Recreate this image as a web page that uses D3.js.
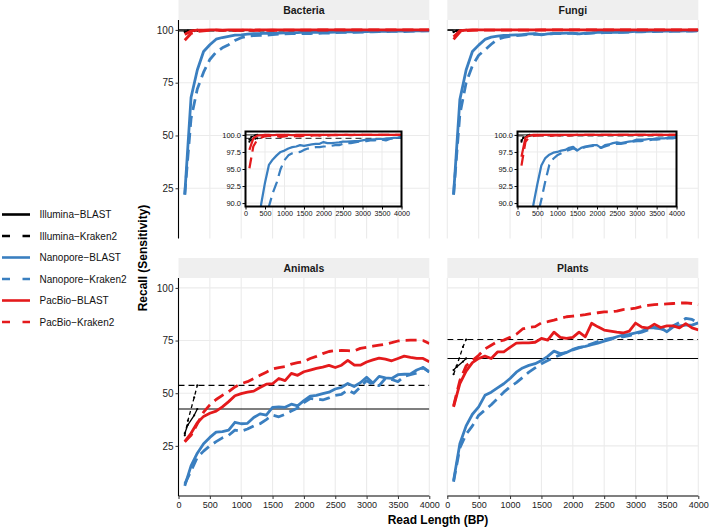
<!DOCTYPE html>
<html><head><meta charset="utf-8">
<script src="https://cdn.jsdelivr.net/npm/d3@7"></script>
<style>
body{margin:0;background:#fff}
text{font-family:Arial,"Liberation Sans",Helvetica,sans-serif}
</style>
</head><body>
<svg id="chart" width="709" height="531"></svg>
<script>
// ---------------- DATA ----------------
const readLength = [100,200,300,400,500,600,700,800,900,1000,1100,1200,1300,1400,1500,1600,1700,1800,1900,2000,
  2100,2200,2300,2400,2500,2600,2700,2800,2900,3000,3100,3200,3300,3400,3500,3600,3700,3800,3900,4000];
const illuminaLength = [100,150,250,300];
const facetNames = ["Bacteria","Fungi","Animals","Plants"];
const seriesNames = ["Illumina\u2212BLAST","Illumina\u2212Kraken2","Nanopore\u2212BLAST","Nanopore\u2212Kraken2","PacBio\u2212BLAST","PacBio\u2212Kraken2"];
const xTicks = [0,500,1000,1500,2000,2500,3000,3500,4000];
const yTicks = [25,50,75,100];
const insetYTicks = [90,92.5,95,97.5,100];

// Bacteria
const bacteriaIlluminaBlast   = [99.3,99.7,99.95,100];
const bacteriaIlluminaKraken2 = [99.0,99.3,99.45,99.5];
const bacteriaNanoporeBlast = [22,68,81,89.8,93,95.6,96.4,97.0,97.5,97.7,98.0,98.2,98.3,98.5,98.4,98.5,98.6,98.7,98.7,98.95,
  98.8,98.8,98.85,98.9,99.0,99.0,99.05,99.1,99.1,99.2,99.3,99.3,99.35,99.4,99.4,99.45,99.5,99.55,99.6,99.7];
const bacteriaNanoporeKraken2 = [22,58,72,80,86,89.5,91.5,93,95,96.3,97.0,97.3,97.4,97.5,97.8,98.0,98.1,98.2,98.2,98.3,
  98.3,98.4,98.5,98.5,98.7,98.8,98.8,98.9,99.0,99.0,99.1,99.2,99.2,99.3,99.3,99.2,99.4,99.5,99.6,99.6];
const bacteriaPacbioBlast = [97.8,99.5,99.9,99.95,100,100,99.95,100,100,100,100,99.95,100,100,100,100,100,100,100,100,
  100,100,100,100,100,100,100,100,100,100,100,100,100,100,100,100,100,100,100,100];
const bacteriaPacbioKraken2 = [95.1,98.3,99.3,99.6,99.8,99.9,99.75,99.85,99.7,99.8,99.9,99.75,99.85,99.8,99.9,99.75,99.9,99.95,99.9,99.95,
  99.9,99.95,100,99.95,100,100,99.95,100,100,100,100,100,100,100,100,100,100,100,100,100];

// Fungi
const fungiIlluminaBlast   = [99.0,99.6,99.9,100];
const fungiIlluminaKraken2 = [99.2,99.6,99.8,99.85];
const fungiNanoporeBlast = [22,67,81,89.8,92.8,95.5,96.6,97.1,97.4,97.5,97.7,97.8,98.1,98.25,97.7,98.1,98.3,98.4,98.5,98.5,
  98.1,98.5,98.6,98.8,98.9,98.8,98.9,99.0,99.1,99.3,99.3,99.3,99.4,99.4,99.5,99.5,99.5,99.6,99.6,99.7];
const fungiNanoporeKraken2 = [22,60,75,83,88,90.5,93.2,95.6,96.5,97.0,97.3,97.6,97.8,98.0,97.8,98.0,98.2,98.3,98.4,98.4,
  98.1,98.3,98.5,98.6,98.7,98.7,98.8,98.9,99.0,99.1,99.1,99.2,99.2,99.3,99.3,99.4,99.4,99.5,99.5,99.6];
const fungiPacbioBlast = [96.8,99.6,99.9,100,100,100,100,100,100,100,100,100,100,100,100,100,100,100,100,100,
  100,100,100,100,100,100,100,100,100,100,100,100,100,100,100,100,100,100,100,100];
const fungiPacbioKraken2 = [95.5,99.0,99.7,99.85,99.9,99.95,99.9,99.85,99.9,99.95,99.9,99.95,99.9,99.95,100,99.95,100,100,100,100,
  100,100,100,100,100,100,100,100,100,100,100,100,100,100,100,100,100,100,100,100];

// Animals
const animalsIlluminaBlast   = [31,35,39.5,42.5];
const animalsIlluminaKraken2 = [30,37,48,53.7];
const animalsNanoporeBlast = [6,15.5,21.5,26,29,31.5,31.8,32.5,36.2,35.5,35.7,38.5,40.2,39.6,43.3,43.5,43.3,44.8,44,46.5,
  48.6,49,49.8,50.5,52,52.8,54.6,53.2,55,57.6,54.8,58,57.3,57,58.8,59,59.2,61,62.2,60.2];
const animalsNanoporeKraken2 = [7,13,19.5,22.5,25,27,28.8,30,32.5,32,33,34.5,35.5,37.5,39.6,38.8,40,41.5,43,45.5,
  47.5,47.2,46.8,47.8,49,49.5,51.5,50,53,56,54,53.6,57,56.5,55.5,58,58.8,59.5,62.2,60];
const animalsPacbioBlast = [27,31,36,39,40.5,41.5,43.5,46,48.8,49.8,50.5,51,52.7,54.3,54.5,57,56,59.4,58.5,60.2,
  61,61.8,62.4,63.2,62.2,63.3,65.6,63.4,63.3,64.8,65.8,66.7,66.2,65.4,66.5,67.6,67,66.5,66.5,64.9];
const animalsPacbioKraken2 = [27,30,35.5,41,44.5,47,49,50.7,53,54.5,55.5,57,58.5,60,61.5,62.2,62.6,63.8,64.5,65,
  66.5,67.5,68.8,69.8,70.2,70.3,70.2,70,71.3,71.8,72.3,72.8,73.3,74,74.8,75.1,75.2,75.2,75,73.6];

// Plants
const plantsIlluminaBlast   = [61,62.5,65,66.5];
const plantsIlluminaKraken2 = [59,63,72,75.5];
const plantsNanoporeBlast = [8.5,26,34.5,40,43.5,49,50.5,52.5,54.5,57,60,62,63.2,64,65.5,67.5,70,68.8,69.3,70.8,
  71.8,72.2,73,73.8,74.7,75.5,76.8,77.6,77.9,78.6,79.4,81,81.2,81,79.2,81.5,82,82.3,82.3,83.4];
const plantsNanoporeKraken2 = [8,24,30.5,34.5,39.5,42,44.5,47.5,50.5,53,55,57.5,60,62,64,65.5,67,68.2,69.5,70.6,
  71.5,72.3,73.5,74.5,75.4,76,76.5,76.8,77.3,78.2,79,80,81,80.5,79.7,82,83.6,85.5,85,83.4];
const plantsPacbioBlast = [43.5,54.5,60.5,64.5,66.5,67.6,66.5,69.6,69.6,71.8,73.8,73.9,73.9,74.2,76,75.2,79,76.5,76,76.5,
  79,76.8,83.2,81.5,80,79.5,79,78.6,79.5,83.3,81.4,80.9,82.8,81.2,82,82,81,83,81,80.1];
const plantsPacbioKraken2 = [44,56,63,65.5,68,71,72.8,74.5,75.2,76.5,78,80.5,81.3,81.6,83.4,84,84.7,85.6,86.3,86.6,
  86.9,87.3,87.8,88.2,88.6,88.6,89,89.7,90,90.4,91.2,91.7,92.1,92.2,92.4,92.6,92.8,92.9,92.6,92.1];

// ---------------- BUILD ----------------
const panelData = {
  Bacteria:[bacteriaIlluminaBlast,bacteriaIlluminaKraken2,bacteriaNanoporeBlast,bacteriaNanoporeKraken2,bacteriaPacbioBlast,bacteriaPacbioKraken2],
  Fungi:[fungiIlluminaBlast,fungiIlluminaKraken2,fungiNanoporeBlast,fungiNanoporeKraken2,fungiPacbioBlast,fungiPacbioKraken2],
  Animals:[animalsIlluminaBlast,animalsIlluminaKraken2,animalsNanoporeBlast,animalsNanoporeKraken2,animalsPacbioBlast,animalsPacbioKraken2],
  Plants:[plantsIlluminaBlast,plantsIlluminaKraken2,plantsNanoporeBlast,plantsNanoporeKraken2,plantsPacbioBlast,plantsPacbioKraken2]
};
const colors = ["#000000","#000000","#3A7FC0","#3A7FC0","#E41A1C","#E41A1C"];
const dashed = [false,true,false,true,false,true];

const svg = d3.select("#chart");
const layout = {
  Bacteria:{x0:178.5,x1:429.3,y0:20,y1:238.5,sy0:0,left:true,bottom:false,inset:[245.5,401.5]},
  Fungi:{x0:447.3,x1:698.3,y0:20,y1:238.5,sy0:0,left:false,bottom:false,inset:[517.5,676.5]},
  Animals:{x0:178.5,x1:429.3,y0:278,y1:496,sy0:258,left:true,bottom:true},
  Plants:{x0:447.3,x1:698.3,y0:278,y1:496,sy0:258,left:false,bottom:true}
};
const gridCol = "#EBEBEB";
const insetY = [131.5,206.5];
const fmtInt = d3.format("d");

function drawSeries(g, xs, ys, vals, lwScale) {
  const line = d3.line().x(d=>xs(d[0])).y(d=>ys(d[1]));
  // Illumina horizontal reference lines (max value)
  [0,1].forEach(k=>{
    const m = d3.max(vals[k]);
    g.append("line").attr("x1",xs(0)).attr("x2",xs(4000)).attr("y1",ys(m)).attr("y2",ys(m))
      .attr("stroke","#000").attr("stroke-width",1.1*lwScale)
      .attr("stroke-dasharray",dashed[k]?"6,4":null);
  });
  vals.forEach((v,k)=>{
    const xv = k<2 ? illuminaLength : readLength;
    const pts = xv.map((x,i)=>[x,v[i]]);
    const thin = k<2;
    g.append("path").attr("d",line(pts)).attr("fill","none")
      .attr("stroke",colors[k])
      .attr("stroke-width",(thin?1.3:2.8)*lwScale)
      .attr("stroke-linejoin","round")
      .attr("stroke-dasharray",dashed[k]?(thin?"4,3":"11,6"):null);
    if (thin) {
      g.selectAll(null).data(pts).enter().append("circle")
        .attr("cx",d=>xs(d[0])).attr("cy",d=>ys(d[1])).attr("r",1.1).attr("fill","#000");
    }
  });
}

facetNames.forEach((name,fi)=>{
  const L = layout[name];
  const x = d3.scaleLinear().domain([0,4000]).range([L.x0,L.x1]);
  const y = d3.scaleLinear().domain([1.2,104.7]).range([L.y1,L.y0]);
  const g = svg.append("g");
  // strip
  g.append("rect").attr("x",L.x0).attr("y",L.sy0).attr("width",L.x1-L.x0).attr("height",L.y0-L.sy0).attr("fill","#EFEFEF");
  g.append("text").attr("x",(L.x0+L.x1)/2).attr("y",(L.sy0+L.y0)/2+4).attr("text-anchor","middle")
    .attr("font-size",10.5).attr("font-weight","bold").attr("fill","#1a1a1a").text(name);
  // grid
  g.selectAll(null).data(xTicks).enter().append("line")
    .attr("x1",d=>x(d)).attr("x2",d=>x(d)).attr("y1",L.y0).attr("y2",L.y1).attr("stroke",gridCol).attr("stroke-width",1.1);
  g.selectAll(null).data(yTicks).enter().append("line")
    .attr("y1",d=>y(d)).attr("y2",d=>y(d)).attr("x1",L.x0).attr("x2",L.x1).attr("stroke",gridCol).attr("stroke-width",1.1);
  const clipId = "clip"+fi;
  svg.append("clipPath").attr("id",clipId).append("rect").attr("x",L.x0).attr("y",L.y0).attr("width",L.x1-L.x0).attr("height",L.y1-L.y0);
  const pg = g.append("g").attr("clip-path",`url(#${clipId})`);
  drawSeries(pg, x, y, panelData[name], 1);

  // axes
  if (L.left) {
    const ax = g.append("g").attr("transform",`translate(${L.x0},0)`).call(d3.axisLeft(y).tickValues(yTicks).tickFormat(fmtInt).tickSize(3).tickPadding(2));
    ax.select(".domain").attr("stroke","#000").attr("stroke-width",1.1).attr("d",`M0,${L.y0}V${L.y1}`);
    ax.selectAll(".tick line").attr("stroke","#333");
    ax.selectAll(".tick text").attr("font-size",10).attr("fill","#222").style("font-family","Arial,'Liberation Sans',sans-serif");
  }
  if (L.bottom) {
    const ax = g.append("g").attr("transform",`translate(0,${L.y1})`).call(d3.axisBottom(x).tickValues(xTicks).tickFormat(fmtInt).tickSize(3).tickPadding(3));
    ax.select(".domain").attr("stroke","#000").attr("stroke-width",1.1).attr("d",`M${L.x0},0H${L.x1}`);
    ax.selectAll(".tick line").attr("stroke","#333");
    ax.selectAll(".tick text").attr("font-size",9).attr("fill","#222").style("font-family","Arial,'Liberation Sans',sans-serif");
  }

  // inset
  if (L.inset) {
    const ix = d3.scaleLinear().domain([0,4000]).range(L.inset);
    const iy = d3.scaleLinear().domain([89.5,100.5]).range([insetY[1],insetY[0]]);
    const ig = g.append("g");
    ig.append("rect").attr("x",L.inset[0]).attr("y",insetY[0]).attr("width",L.inset[1]-L.inset[0]).attr("height",insetY[1]-insetY[0]).attr("fill","#fff");
    ig.selectAll(null).data(xTicks).enter().append("line")
      .attr("x1",d=>ix(d)).attr("x2",d=>ix(d)).attr("y1",insetY[0]).attr("y2",insetY[1]).attr("stroke",gridCol).attr("stroke-width",1);
    ig.selectAll(null).data(insetYTicks).enter().append("line")
      .attr("y1",d=>iy(d)).attr("y2",d=>iy(d)).attr("x1",L.inset[0]).attr("x2",L.inset[1]).attr("stroke",gridCol).attr("stroke-width",1);
    const icid = "iclip"+fi;
    svg.append("clipPath").attr("id",icid).append("rect").attr("x",L.inset[0]).attr("y",insetY[0]).attr("width",L.inset[1]-L.inset[0]).attr("height",insetY[1]-insetY[0]);
    const ipg = ig.append("g").attr("clip-path",`url(#${icid})`);
    drawSeries(ipg, ix, iy, panelData[name], 0.8);
    ig.append("rect").attr("x",L.inset[0]).attr("y",insetY[0]).attr("width",L.inset[1]-L.inset[0]).attr("height",insetY[1]-insetY[0])
      .attr("fill","none").attr("stroke","#000").attr("stroke-width",2);
    const iax = ig.append("g").attr("transform",`translate(${L.inset[0]},0)`).call(d3.axisLeft(iy).tickValues(insetYTicks).tickSize(3).tickPadding(1.5).tickFormat(d3.format(".1f")));
    iax.select(".domain").remove();
    iax.selectAll(".tick text").attr("font-size",7.5).attr("fill","#111").style("font-family","Arial,'Liberation Sans',sans-serif");
    const ibx = ig.append("g").attr("transform",`translate(0,${insetY[1]})`).call(d3.axisBottom(ix).tickValues(xTicks).tickFormat(fmtInt).tickSize(3).tickPadding(1.5));
    ibx.select(".domain").remove();
    ibx.selectAll(".tick text").attr("font-size",7.2).attr("fill","#111").style("font-family","Arial,'Liberation Sans',sans-serif");
  }
});

// axis titles
svg.append("text").attr("x",438).attr("y",524).attr("text-anchor","middle").attr("font-size",12).attr("font-weight","bold").text("Read Length (BP)");
svg.append("text").attr("transform","translate(147,258) rotate(-90)").attr("text-anchor","middle").attr("font-size",12).attr("font-weight","bold").text("Recall (Sensitivity)");

// legend
const legendY = [214.5,236,257.5,279,300.5,322];
const lg = svg.append("g");
seriesNames.forEach((s,k)=>{
  const yy = legendY[k];
  lg.append("line").attr("x1",2).attr("x2",30).attr("y1",yy).attr("y2",yy).attr("stroke",colors[k]).attr("stroke-width",2.6)
    .attr("stroke-dasharray",dashed[k]?"8,12.5":null);
  lg.append("text").attr("x",39.5).attr("y",yy+3.6).attr("font-size",10).attr("fill","#111").text(s);
});
</script>
</body></html>
